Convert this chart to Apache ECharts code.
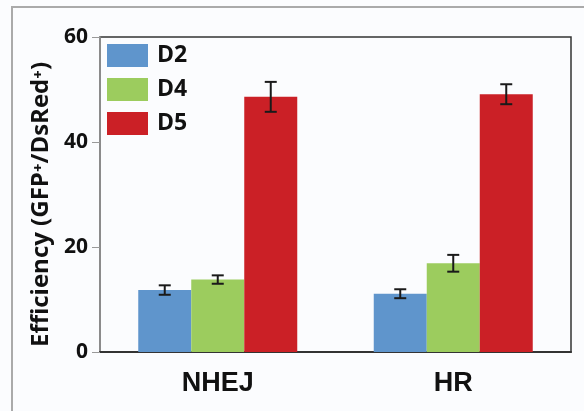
<!DOCTYPE html>
<html>
<head>
<meta charset="utf-8">
<script src="https://cdn.jsdelivr.net/npm/echarts@6/dist/echarts.min.js"></script>
<style>
  html, body { margin: 0; padding: 0; background: #fbfcfe; }
  #chart { width: 584px; height: 411px; }
</style>
</head>
<body>
<div id="chart"></div>
<script>
var categories = ['NHEJ', 'HR'];
var seriesNames = ['D2', 'D4', 'D5'];
var d2 = [11.8, 11.1];
var d4 = [13.8, 16.9];
var d5 = [48.6, 49.1];
var d2Err = [0.9, 0.85];
var d4Err = [0.8, 1.6];
var d5Err = [2.85, 1.9];
var yTicks = [0, 20, 40, 60];

var colors = ['#5f95cc', '#9ccc5e', '#cb2026'];
var values = [d2, d4, d5];
var errors = [d2Err, d4Err, d5Err];
var barW = 53;

var myChart = echarts.init(document.getElementById('chart'));

var series = [];
for (let i = 0; i < seriesNames.length; i++) {
  series.push({
    name: seriesNames[i],
    type: 'bar',
    barWidth: barW,
    barGap: '0%',
    itemStyle: { color: colors[i] },
    data: values[i]
  });
}
// error bars, one custom series per bar series
for (let i = 0; i < seriesNames.length; i++) {
  let offset = (i - 1) * barW;
  let errData = values[i].map(function (v, k) { return [k, v, errors[i][k]]; });
  series.push({
    type: 'custom',
    z: 10,
    silent: true,
    data: errData,
    renderItem: function (params, api) {
      var k = api.value(0), v = api.value(1), e = api.value(2);
      var hi = api.coord([k, v + e]);
      var lo = api.coord([k, v - e]);
      var x = hi[0] + offset;
      var cap = 6;
      var st = { stroke: '#1a1a1a', lineWidth: 2 };
      return {
        type: 'group',
        children: [
          { type: 'line', shape: { x1: x, y1: hi[1], x2: x, y2: lo[1] }, style: st },
          { type: 'line', shape: { x1: x - cap, y1: hi[1], x2: x + cap, y2: hi[1] }, style: st },
          { type: 'line', shape: { x1: x - cap, y1: lo[1], x2: x + cap, y2: lo[1] }, style: st }
        ]
      };
    }
  });
}

var option = {
  backgroundColor: '#fbfcfe',
  animation: false,
  graphic: [{
    type: 'rect',
    shape: { x: 12, y: 7, width: 620, height: 440 },
    style: { fill: 'none', stroke: '#aaaaaa', lineWidth: 2 }
  }],
  legend: {
    data: seriesNames,
    orient: 'vertical',
    left: 102,
    top: 39,
    itemWidth: 41,
    itemHeight: 23,
    itemGap: 11,
    icon: 'rect',
    textStyle: {
      fontFamily: 'Open Sans', fontWeight: 'bold', fontSize: 23, color: '#111',
      padding: [0, 0, 0, 4]
    }
  },
  grid: {
    left: 100, right: 13, top: 37, bottom: 59,
    show: true,
    borderColor: '#333',
    borderWidth: 1.5,
    backgroundColor: 'transparent'
  },
  xAxis: {
    type: 'category',
    data: categories,
    axisLine: { lineStyle: { color: '#333', width: 2 } },
    axisTick: { show: false },
    axisLabel: {
      margin: 18,
      fontFamily: 'Liberation Sans',
      fontWeight: 'bold',
      fontSize: 27,
      color: '#111'
    }
  },
  yAxis: {
    type: 'value',
    min: yTicks[0],
    max: yTicks[yTicks.length - 1],
    interval: 20,
    name: 'Efficiency (GFP\u207A/DsRed\u207A)',
    nameLocation: 'middle',
    nameRotate: 90,
    nameGap: 45,
    nameTextStyle: {
      fontFamily: 'Open Sans', fontWeight: 'bold', fontSize: 24, color: '#111',
      padding: [0, 20, 0, 0]
    },
    axisLine: { show: true, lineStyle: { color: '#999', width: 1.5 } },
    axisTick: { show: true, length: 8, lineStyle: { color: '#999' } },
    splitLine: { show: false },
    axisLabel: {
      margin: 12,
      fontFamily: 'Open Sans',
      fontWeight: 'bold',
      fontSize: 21,
      color: '#111'
    }
  },
  series: series
};
myChart.setOption(option);
</script>
</body>
</html>
